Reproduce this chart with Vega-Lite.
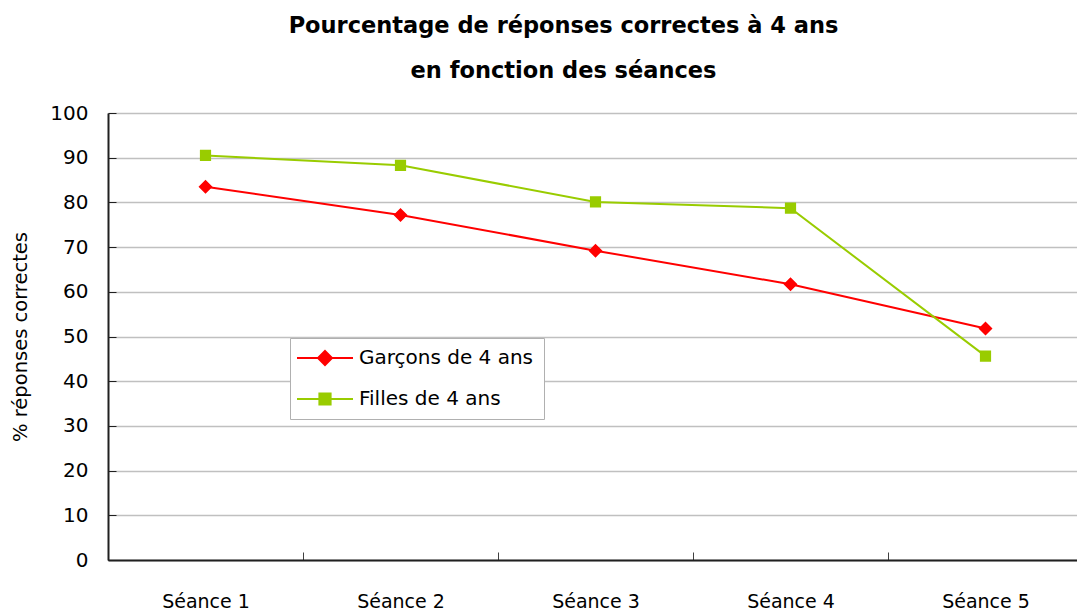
{
  "$schema": "https://vega.github.io/schema/vega-lite/v6.json",
  "autosize": {"type": "none"},
  "padding": {"left": 108, "top": 113, "right": 0, "bottom": 51},
  "width": 975,
  "height": 447,
  "background": "white",
  "title": {
    "text": ["Pourcentage de réponses correctes à 4 ans", "en fonction des séances"],
    "font": "DejaVu Sans",
    "fontSize": 22.5,
    "fontWeight": "bold",
    "color": "black",
    "anchor": "middle",
    "dx": -32,
    "lineHeight": 45,
    "offset": 21
  },
  "data": {
    "values": [
      {"seance": "Séance 1", "serie": "Garçons de 4 ans", "pct": 83.5},
      {"seance": "Séance 2", "serie": "Garçons de 4 ans", "pct": 77.2},
      {"seance": "Séance 3", "serie": "Garçons de 4 ans", "pct": 69.2},
      {"seance": "Séance 4", "serie": "Garçons de 4 ans", "pct": 61.7},
      {"seance": "Séance 5", "serie": "Garçons de 4 ans", "pct": 51.8},
      {"seance": "Séance 1", "serie": "Filles de 4 ans", "pct": 90.5},
      {"seance": "Séance 2", "serie": "Filles de 4 ans", "pct": 88.3},
      {"seance": "Séance 3", "serie": "Filles de 4 ans", "pct": 80.1},
      {"seance": "Séance 4", "serie": "Filles de 4 ans", "pct": 78.7},
      {"seance": "Séance 5", "serie": "Filles de 4 ans", "pct": 45.6}
    ]
  },
  "encoding": {
    "x": {
      "field": "seance",
      "type": "ordinal",
      "sort": null,
      "scale": {"paddingInner": 0, "paddingOuter": 0},
      "axis": {
        "title": null,
        "labelAngle": 0,
        "labelFont": "DejaVu Sans",
        "labelFontSize": 19,
        "labelColor": "black",
        "labelPadding": 49,
        "labelBaseline": "middle",
        "tickBand": "extent",
        "tickSize": -8,
        "tickColor": "#404040",
        "domainColor": "#202020",
        "domainWidth": 2,
        "grid": false
      }
    },
    "y": {
      "field": "pct",
      "type": "quantitative",
      "scale": {"domain": [0, 100], "nice": false},
      "axis": {
        "title": "% réponses correctes",
        "titleFont": "DejaVu Sans",
        "titleFontSize": 19.5,
        "titleFontWeight": "normal",
        "titleColor": "black",
        "titleX": -88,
        "titleY": 223.5,
        "titleAngle": -90,
        "titleBaseline": "middle",
        "titleAlign": "center",
        "values": [0, 10, 20, 30, 40, 50, 60, 70, 80, 90, 100],
        "labelFont": "DejaVu Sans",
        "labelFontSize": 20,
        "labelColor": "black",
        "labelPadding": 28,
        "tickSize": -8,
        "tickColor": "#202020",
        "domainColor": "#202020",
        "domainWidth": 2,
        "grid": true,
        "gridColor": "#c0c0c0",
        "gridWidth": 1.3
      }
    },
    "color": {
      "field": "serie",
      "type": "nominal",
      "sort": ["Garçons de 4 ans", "Filles de 4 ans"],
      "scale": {"domain": ["Garçons de 4 ans", "Filles de 4 ans"], "range": ["#ff0000", "#99cc00"]},
      "legend": {
        "title": null,
        "orient": "none",
        "legendX": 182,
        "legendY": 225,
        "fillColor": "white",
        "strokeColor": "#b0b0b0",
        "padding": 10,
        "labelFont": "DejaVu Sans",
        "labelFontSize": 20,
        "labelLimit": 400,
        "labelColor": "black",
        "symbolSize": 196,
        "symbolOffset": 15,
        "labelOffset": 24,
        "rowPadding": 20,
        "symbolStrokeWidth": 2,
        "encode": {
          "symbols": {"update": {"stroke": {"scale": "color", "field": "value"}, "strokeWidth": {"value": 2}}}
        }
      }
    }
  },
  "layer": [
    {
      "mark": {"type": "line", "strokeWidth": 2}
    },
    {
      "mark": {"type": "point", "filled": true, "opacity": 1, "size": 196, "strokeWidth": 0},
      "encoding": {
        "shape": {
          "field": "serie",
          "type": "nominal",
          "sort": ["Garçons de 4 ans", "Filles de 4 ans"],
          "scale": {
            "domain": ["Garçons de 4 ans", "Filles de 4 ans"],
            "range": ["M-4,0L4,0M0,-1L1,0L0,1L-1,0Z", "M-4,0L4,0M-0.8,-0.8L0.8,-0.8L0.8,0.8L-0.8,0.8Z"]
          },
          "legend": {
            "title": null,
            "orient": "none",
            "legendX": 182,
            "legendY": 225
          }
        }
      }
    }
  ]
}
